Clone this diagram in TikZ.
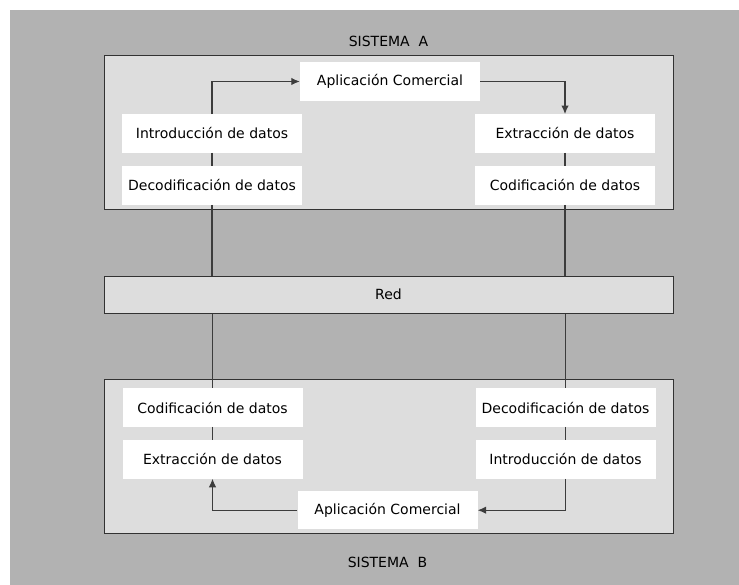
\documentclass[tikz,border=0pt]{standalone}
\usepackage{fontspec}
\setmainfont{DejaVu Sans}
\usepackage{xcolor}
\usepackage{tikz}
\usetikzlibrary{arrows.meta}

\definecolor{fondo}{RGB}{178,178,178}
\definecolor{caja}{RGB}{221,221,221}
\definecolor{borde}{RGB}{50,50,50}
\definecolor{linea}{RGB}{60,60,60}

\tikzset{
  sistema/.style={draw=borde, line width=1pt, fill=caja, minimum width=569pt, inner sep=0pt},
  datos/.style={fill=white, minimum width=180pt, minimum height=38.5pt, inner sep=0pt,
    font=\fontsize{14}{16}\selectfont},
  etiqueta/.style={font=\fontsize{14}{16}\selectfont},
  enlace/.style={draw=linea, line width=1.1pt},
  flecha/.style={enlace, -{Latex[length=8.5pt,width=7.5pt]}},
}

\begin{document}
\begin{tikzpicture}[x=1pt,y=-1pt]
\useasboundingbox (0,0) rectangle (739,585);
\fill[fondo] (10,10) rectangle (739,585);

% sistema A
\node[etiqueta] (titA) at (388.5,41) {SISTEMA\ \ A};
\node[sistema, minimum height=154pt] (sisA) at (388.5,133) {};
\node[datos] (appA) at (390,81.5) {Aplicación Comercial};
\node[datos] (introA) at (212,133.5) {Introducción de datos};
\node[datos] (decodA) at (212,185.5) {Decodificación de datos};
\node[datos] (extrA) at (565,133.5) {Extracción de datos};
\node[datos] (codifA) at (565,185.5) {Codificación de datos};

% red
\node[sistema, minimum height=37pt, etiqueta] (red) at (388.5,294.7) {Red};

% sistema B
\node[sistema, minimum height=154pt] (sisB) at (388.5,456.3) {};
\node[datos] (codifB) at (212.5,407.5) {Codificación de datos};
\node[datos] (extrB) at (212.5,459.3) {Extracción de datos};
\node[datos] (decodB) at (565.5,407.5) {Decodificación de datos};
\node[datos] (introB) at (565.5,459.3) {Introducción de datos};
\node[datos] (appB) at (387.5,510.2) {Aplicación Comercial};
\node[etiqueta] (titB) at (387.5,562.7) {SISTEMA\ \ B};

% conexiones
\draw[flecha] (introA.north) |- (appA.west);
\draw[flecha] (appA.east) -| (extrA.north);
\draw[enlace] (introA) -- (decodA);
\draw[enlace] (extrA) -- (codifA);
\draw[enlace] (decodA.south) -- (decodA.south |- red.north);
\draw[enlace] (codifA.south) -- (codifA.south |- red.north);
\draw[enlace] (codifB.north |- red.south) -- (codifB.north);
\draw[enlace] (decodB.north |- red.south) -- (decodB.north);
\draw[enlace] (codifB) -- (extrB);
\draw[enlace] (decodB) -- (introB);
\draw[flecha] (introB.south) |- (appB.east);
\draw[flecha] (appB.west) -| (extrB.south);
\end{tikzpicture}
\end{document}
